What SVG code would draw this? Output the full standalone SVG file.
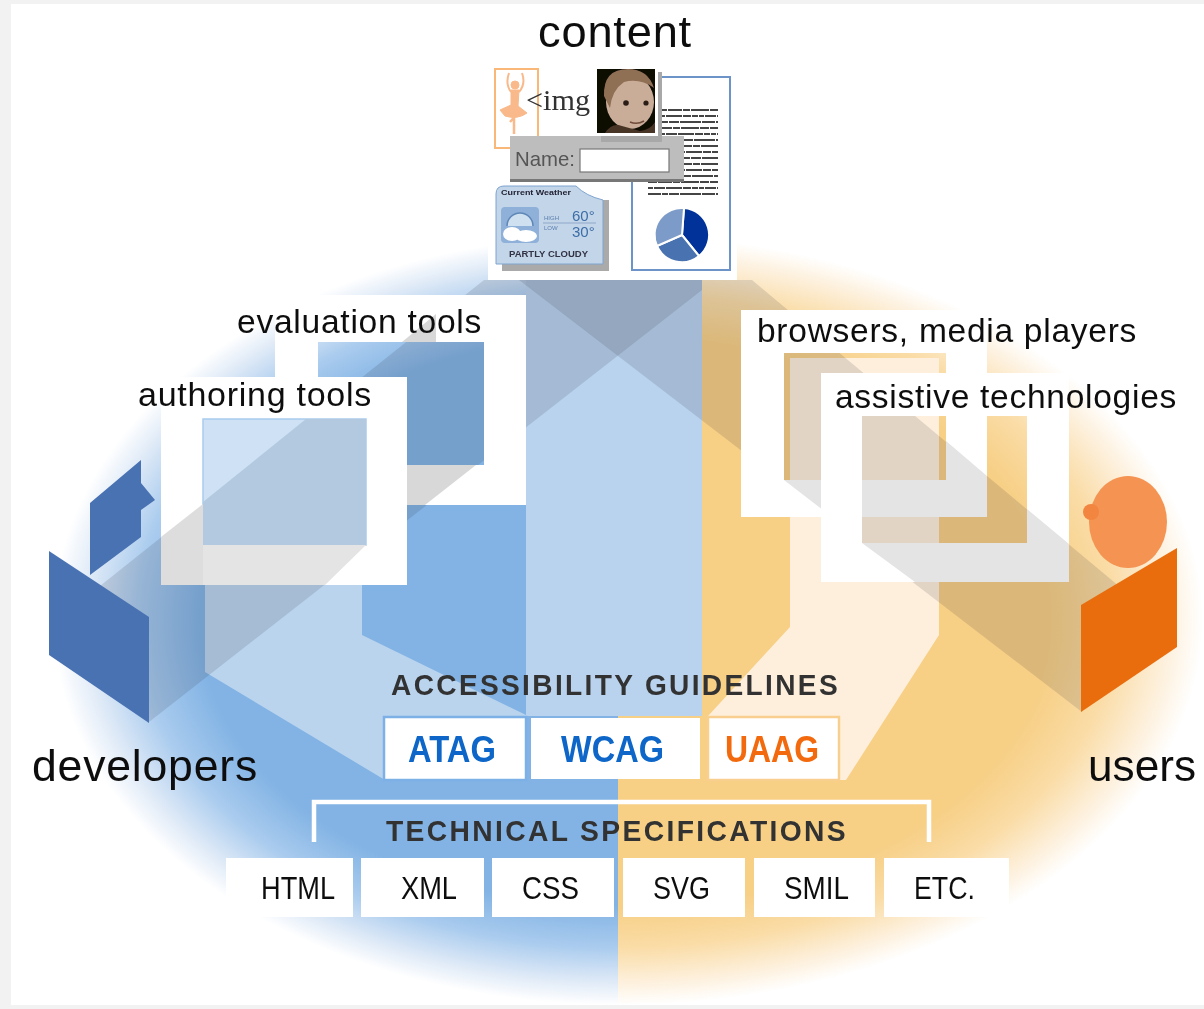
<svg xmlns="http://www.w3.org/2000/svg" width="1204" height="1009" viewBox="0 0 1204 1009">
<defs>
<radialGradient id="gb"><stop offset="0" stop-color="#82b3e4"/><stop offset=".74" stop-color="#82b3e4"/><stop offset=".85" stop-color="#a9cbee"/><stop offset=".94" stop-color="#dfeaf7"/><stop offset="1" stop-color="#fff"/></radialGradient>
<radialGradient id="go"><stop offset="0" stop-color="#f7cf85"/><stop offset=".74" stop-color="#f7cf85"/><stop offset=".85" stop-color="#fadca6"/><stop offset=".94" stop-color="#fdf0dc"/><stop offset="1" stop-color="#fff"/></radialGradient>
<clipPath id="cl"><rect x="0" y="0" width="618" height="1009"/></clipPath>
<clipPath id="cr"><rect x="618" y="0" width="586" height="1009"/></clipPath>
<filter id="soft" x="0" y="0" width="1" height="1"><feGaussianBlur stdDeviation=".55"/></filter>
</defs>
<style>
.lbl{font-family:"Liberation Sans",Arial,sans-serif;fill:#111;font-size:33px;letter-spacing:.7px}
.big{font-size:45px;letter-spacing:.8px}
.hd{font-weight:bold;font-size:30px;fill:#333;letter-spacing:2.5px}
.gl{font-weight:bold;font-size:36px;letter-spacing:0}
.sp{font-size:32px;letter-spacing:0}
.box{fill:#fff}
.beam{fill:#223;fill-opacity:.135}
.over{fill:#e4e4e4}
.frame{fill:#fff;fill-rule:evenodd}
.t1,.t2,.t3{stroke:#444;stroke-width:2.2;fill:none}
.t1{stroke-dasharray:9 1 14 1 7 1 18 1}
.t2{stroke-dasharray:5 1 11 1 16 1 8 1 6 1}
.t3{stroke-dasharray:13 1 6 1 10 1 21 1}
</style>
<rect width="1204" height="1009" fill="#f2f2f2"/>
<g filter="url(#soft)">
<rect x="11" y="4" width="1193" height="1001" fill="#fff"/>

<g id="background">
<ellipse cx="618" cy="620" rx="565" ry="385" fill="url(#gb)" clip-path="url(#cl)"/>
<ellipse cx="618" cy="620" rx="585" ry="385" fill="url(#go)" clip-path="url(#cr)"/>
<polygon points="205,500 362,500 362,635 526,715 526,716 523,716 523,780 385,780 205,672" fill="#bad4ee"/>
<polygon points="790,358 939,358 939,635 846,780 708,780 708,716 790,627" fill="#feefdc"/>
<rect x="526" y="270" width="176" height="446" fill="#b9d3ee"/>
</g>

<g id="connectors">
<polygon class="beam" points="100,586 484,280 702,280 702,290 149,722"/>
<polygon class="beam" points="519,280 752,280 1120,587 1082,712"/>
</g>

<g id="evaluation-tools">
<path class="frame" d="M275 295H526V505H275ZM318 342V465H484V342Z"/>
<polygon points="407,465 476,465 425,505 407,505" fill="#d8d8d8"/>
<polygon points="402,342 436,342 436,314" fill="#d8d8d8"/>
<text class="lbl" x="237" y="333" textLength="245" lengthAdjust="spacingAndGlyphs">evaluation tools</text>
</g>
<g id="authoring-tools">
<path class="frame" d="M161 377H407V585H161ZM203 419V545H366V419Z"/>
<rect x="203" y="419" width="163" height="126" fill="#cfe1f4" stroke="#a9cbee" stroke-width="1.5"/>
<polygon points="203,502 306,419 366,419 366,545 203,545" fill="#b3c9df"/>
<polygon points="203,545 366,545 325,585 203,585" class="over"/>
<polygon points="161,537 203,504 203,585 161,585" fill="#dddddd"/>
<text class="lbl" x="138" y="406" textLength="234" lengthAdjust="spacingAndGlyphs">authoring tools</text>
</g>
<g id="browsers">
<path class="frame" d="M741 310H987V517H741ZM784 353V480H946V353Z"/>
<polygon points="784,480 946,480 946,441 987,476 987,517 832,517" class="over"/>
<text class="lbl" x="757" y="342" textLength="380" lengthAdjust="spacingAndGlyphs">browsers, media players</text>
</g>
<g id="assistive-technologies">
<path class="frame" d="M821 373H1069V582H821ZM862 416V543H1027V416Z"/>
<polygon points="862,543 1027,543 1027,509 1069,544 1069,582 915,582" class="over"/>
<text class="lbl" x="835" y="408" textLength="342" lengthAdjust="spacingAndGlyphs">assistive technologies</text>
</g>

<g id="developers">
<polygon points="90,503 141,460 141,483 155,500 141,510 141,537 90,575" fill="#4a72b3"/>
<polygon points="49,551 149,617 149,723 49,655" fill="#4a72b3"/>
<text class="lbl big" x="32" y="781" textLength="226" lengthAdjust="spacingAndGlyphs">developers</text>
</g>
<g id="users">
<ellipse cx="1128" cy="522" rx="39" ry="46" fill="#f59352"/>
<circle cx="1091" cy="512" r="8" fill="#f2853f"/>
<polygon points="1177,548 1177,647 1081,712 1081,605" fill="#e96d10"/>
<text class="lbl big" x="1088" y="781" textLength="108" lengthAdjust="spacingAndGlyphs" style="letter-spacing:0">users</text>
</g>

<g id="content">
<rect x="488" y="5" width="249" height="275" fill="#fff"/>
<text class="lbl big" x="538" y="47" textLength="154" lengthAdjust="spacingAndGlyphs">content</text>
<g id="ballerina">
<rect x="495" y="69" width="43" height="79" fill="#fff" stroke="#f9b878" stroke-width="2"/>
<g fill="#f9b98a" stroke="#f9b98a">
<circle cx="515" cy="85" r="4"/>
<path d="M511 92 Q505 84 509 73M519 92 Q526 84 522 73" fill="none" stroke-width="2"/>
<path d="M511 90H519L518 106 527 113 Q517 120 505 116L500 110 511 105Z"/>
<path d="M514 115V134M517 114L510 122" fill="none" stroke-width="2.5"/>
</g>
</g>
<text x="526" y="110" font-family="Liberation Serif,Times New Roman,serif" font-size="30" fill="#333" textLength="64" lengthAdjust="spacingAndGlyphs">&lt;img</text>
<g id="document">
<rect x="632" y="77" width="98" height="193" fill="#fff" stroke="#6d94c8" stroke-width="2"/>
<path class="t1" d="M658 110H718M648 128H718M668 146H718M668 164H718M648 182H718"/>
<path class="t2" d="M648 116H718M660 134H718M668 152H718M668 170H718M648 188H718"/>
<path class="t3" d="M648 122H718M662 140H718M670 158H718M660 176H718M648 194H718"/>
<g stroke="#fff" stroke-width="2">
<path d="M682 235L684 208A27 27 0 0 1 699 256Z" fill="#003399"/>
<path d="M682 235L699 256A27 27 0 0 1 657 246Z" fill="#4a72b0"/>
<path d="M682 235L657 246A27 27 0 0 1 684 208Z" fill="#7d9bc8"/>
</g>
</g>
<g id="name-field">
<rect x="510" y="136" width="174" height="45" fill="#bdbdbd"/>
<rect x="510" y="179" width="174" height="3" fill="#777"/>
<text x="515" y="166" font-family="Liberation Sans,Arial,sans-serif" font-size="21" fill="#555" textLength="60" lengthAdjust="spacingAndGlyphs">Name:</text>
<rect x="580" y="149" width="89" height="23" fill="#fff" stroke="#777" stroke-width="1.2"/>
</g>
<g id="photo">
<rect x="601" y="72" width="61" height="70" fill="#a8a8a8"/>
<rect x="595" y="66" width="63" height="70" fill="#fff"/>
<rect x="597" y="69" width="58" height="64" fill="#0c0806"/>
<ellipse cx="630" cy="102" rx="24" ry="27" fill="#c9ad98"/>
<path d="M604 96Q603 69 628 69 648 69 654 88 640 78 624 82 612 90 610 108Z" fill="#8f6f55"/>
<circle cx="626" cy="103" r="2.8" fill="#2a1c14"/>
<circle cx="646" cy="103" r="2.6" fill="#2a1c14"/>
<path d="M630 122Q637 125 644 121" stroke="#6e4a3a" stroke-width="1.6" fill="none"/>
<path d="M605 133Q612 122 622 126L640 131Q650 130 655 122V133Z" fill="#4a3526"/>
</g>
<g id="weather">
<rect x="502" y="200" width="107" height="71" fill="#aaa"/>
<path d="M496 194Q496 186 504 186H576Q586 196 603 200V264H496Z" fill="#c3d5e9" stroke="#7ea4cf"/>
<text x="501" y="195" font-family="Liberation Sans,Arial,sans-serif" font-weight="bold" font-size="8" fill="#223" textLength="70" lengthAdjust="spacingAndGlyphs">Current Weather</text>
<rect x="501" y="207" width="38" height="36" rx="4" fill="#8fb0d8"/>
<path d="M507 226A13 13 0 0 1 533 226" fill="#cfe0f0" stroke="#5f87b8" stroke-width="1.5"/>
<ellipse cx="512" cy="234" rx="9" ry="7" fill="#fff"/><ellipse cx="526" cy="236" rx="11" ry="6" fill="#fff"/>
<path d="M543 223H596" stroke="#8fa8c8"/>
<text x="544" y="220" font-family="Liberation Sans,Arial,sans-serif" font-size="6" fill="#5b7fae">HIGH</text>
<text x="544" y="230" font-family="Liberation Sans,Arial,sans-serif" font-size="6" fill="#5b7fae">LOW</text>
<text x="572" y="221" font-family="Liberation Sans,Arial,sans-serif" font-size="15" fill="#3c6ea6">60°</text>
<text x="572" y="237" font-family="Liberation Sans,Arial,sans-serif" font-size="15" fill="#3c6ea6">30°</text>
<text x="509" y="257" font-family="Liberation Sans,Arial,sans-serif" font-weight="bold" font-size="9" fill="#334" textLength="79" lengthAdjust="spacingAndGlyphs">PARTLY CLOUDY</text>
</g>
</g>

<g id="guidelines">
<text class="lbl hd" x="391" y="695" textLength="449" lengthAdjust="spacingAndGlyphs">ACCESSIBILITY GUIDELINES</text>
<g id="atag"><rect x="384" y="717" width="142" height="63" fill="#fff" stroke="#7db1e6" stroke-width="2.5"/><text class="lbl gl" x="408" y="762" style="fill:#0a66c8" textLength="88" lengthAdjust="spacingAndGlyphs">ATAG</text></g>
<g id="wcag"><rect x="531" y="718" width="169" height="61" class="box"/><text class="lbl gl" x="561" y="762" style="fill:#0a66c8" textLength="103" lengthAdjust="spacingAndGlyphs">WCAG</text></g>
<g id="uaag"><rect x="708" y="717" width="131" height="63" fill="#fff" stroke="#f9cf90" stroke-width="2.5"/><text class="lbl gl" x="725" y="762" style="fill:#f26a0c" textLength="94" lengthAdjust="spacingAndGlyphs">UAAG</text></g>
</g>

<g id="specifications">
<path d="M314 842V802H929V842" fill="none" stroke="#fff" stroke-width="4.5"/>
<text class="lbl hd" x="386" y="841" textLength="462" lengthAdjust="spacingAndGlyphs">TECHNICAL SPECIFICATIONS</text>
<g id="html"><rect x="226" y="858" width="127" height="59" class="box"/><text class="lbl sp" x="261" y="899" textLength="74" lengthAdjust="spacingAndGlyphs">HTML</text></g>
<g id="xml"><rect x="361" y="858" width="123" height="59" class="box"/><text class="lbl sp" x="401" y="899" textLength="56" lengthAdjust="spacingAndGlyphs">XML</text></g>
<g id="css"><rect x="492" y="858" width="122" height="59" class="box"/><text class="lbl sp" x="522" y="899" textLength="57" lengthAdjust="spacingAndGlyphs">CSS</text></g>
<g id="svg"><rect x="623" y="858" width="122" height="59" class="box"/><text class="lbl sp" x="653" y="899" textLength="57" lengthAdjust="spacingAndGlyphs">SVG</text></g>
<g id="smil"><rect x="754" y="858" width="121" height="59" class="box"/><text class="lbl sp" x="784" y="899" textLength="65" lengthAdjust="spacingAndGlyphs">SMIL</text></g>
<g id="etc"><rect x="884" y="858" width="125" height="59" class="box"/><text class="lbl sp" x="914" y="899" textLength="61" lengthAdjust="spacingAndGlyphs">ETC.</text></g>
</g>
</g>
</svg>
